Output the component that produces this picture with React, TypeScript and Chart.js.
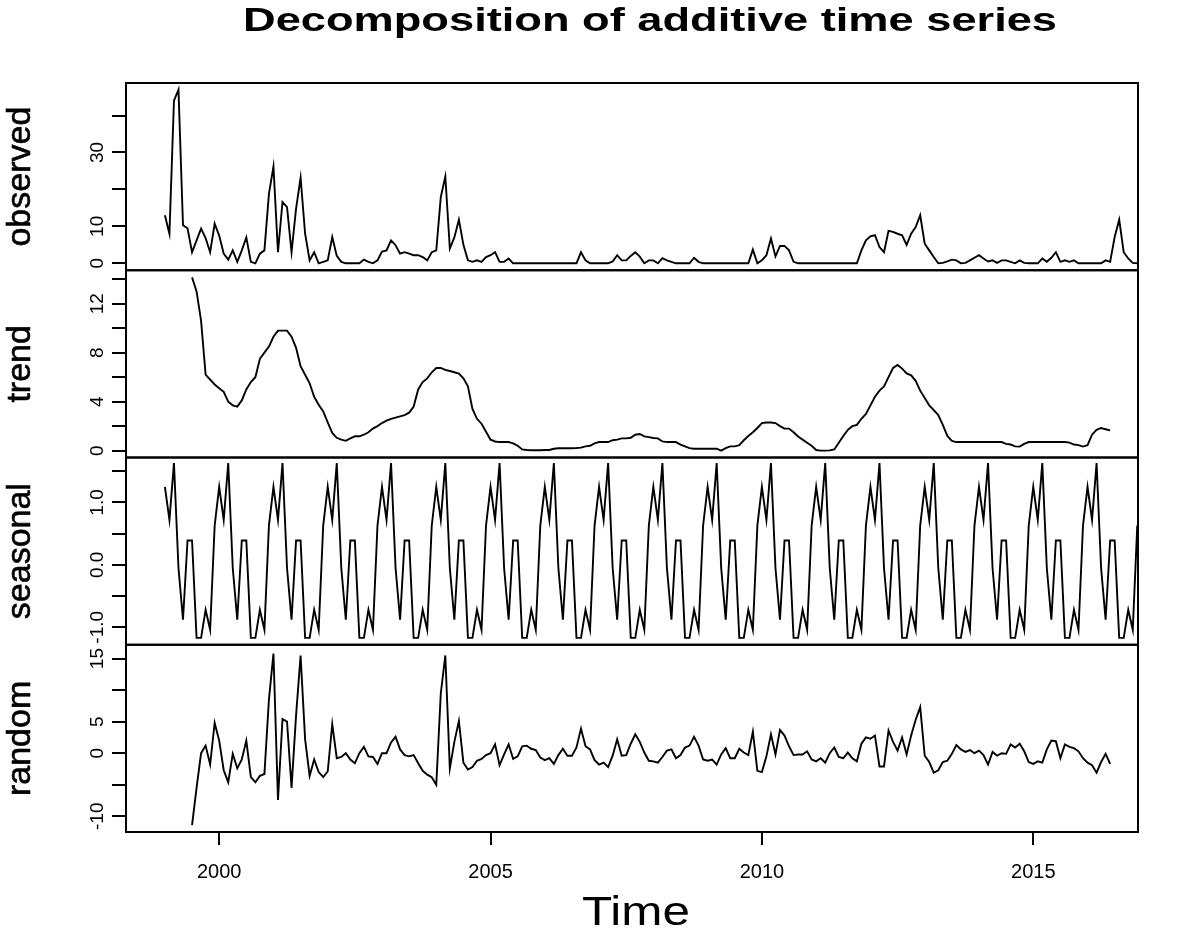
import React, { useEffect, useRef } from "react";
import { Chart, registerables } from "chart.js";

Chart.register(...registerables);

// ---- Time base: monthly series, Jan 1999 .. Dec 2016 ----
const startYear = 1999;
const monthsPerYear = 12;

// ---- observed (one row per year, Jan..Dec) ----
const observed: number[] = [
  13, 8, 44, 47, 10.3, 9.5, 3, 6.2, 9.4, 6.8, 3, 10.7, // 1999
  7.5, 2.6, 1, 3.5, 0.4, 3.5, 7.0, 0.4, 0, 2.6, 3.5, 18.8, // 2000
  26.2, 3, 16.6, 15.2, 3, 14.8, 23.2, 8, 0.8, 3, 0, 0.4, // 2001
  0.8, 7.1, 2, 0.4, 0, 0, 0, 0, 1, 0.4, 0, 0.8, // 2002
  3.2, 3.5, 6.2, 4.9, 2.6, 3, 2.6, 2.2, 2.2, 1.7, 0.8, 3, // 2003
  3.5, 17.9, 23.5, 4, 7, 11.8, 5, 0.8, 0.4, 0.8, 0.4, 1.7, // 2004
  2.2, 3, 0.4, 0.4, 1.3, 0, 0, 0, 0, 0, 0, 0, // 2005
  0, 0, 0, 0, 0, 0, 0, 0, 3, 0.8, 0, 0, // 2006
  0, 0, 0, 0.5, 2.2, 0.8, 0.8, 2, 3, 1.8, 0, 0.8, // 2007
  0.8, 0, 1.4, 0.8, 0.4, 0, 0, 0, 0, 1.5, 0.4, 0, // 2008
  0, 0, 0, 0, 0, 0, 0, 0, 0, 0, 3.7, 0, // 2009
  0.8, 2.2, 6.7, 1.9, 4.7, 4.7, 3.5, 0.4, 0, 0, 0, 0, // 2010
  0, 0, 0, 0, 0, 0, 0, 0, 0, 0, 3.5, 6.2, // 2011
  7.3, 7.6, 4.4, 3, 8.8, 8.5, 8, 7.6, 5, 8, 9.8, 13, // 2012
  5.3, 3.5, 1.7, 0, 0.1, 0.5, 1, 0.8, 0, 0.1, 0.8, 1.5, // 2013
  2.2, 1.3, 0.5, 0.8, 0.1, 0.8, 0.8, 0.4, 0, 0.8, 0.1, 0, // 2014
  0, 0, 1.3, 0.4, 1.5, 3, 0.4, 0.8, 0.4, 0.8, 0, 0, // 2015
  0, 0, 0, 0, 0.8, 0.4, 7.1, 11.8, 3, 1.3, 0.1, 0, // 2016
];

// ---- trend (centred moving average: missing first/last 6 months) ----
const trend: (number | null)[] = [
  null, null, null, null, null, null, 14.15, 13.0, 10.6, 6.2, 5.8, 5.4, // 1999
  5.1, 4.8, 4.0, 3.7, 3.6, 4.1, 5.0, 5.6, 6.0, 7.5, 8.0, 8.5, // 2000
  9.3, 9.8, 9.8, 9.8, 9.3, 8.4, 6.9, 6.2, 5.5, 4.4, 3.75, 3.2, // 2001
  2.3, 1.45, 1.05, 0.9, 0.8, 1.0, 1.17, 1.17, 1.3, 1.5, 1.8, 2.0, // 2002
  2.25, 2.45, 2.6, 2.7, 2.8, 2.9, 3.1, 3.6, 5.0, 5.6, 5.9, 6.4, // 2003
  6.75, 6.75, 6.6, 6.5, 6.4, 6.3, 5.9, 5.25, 3.4, 2.6, 2.2, 1.55, // 2004
  0.9, 0.75, 0.7, 0.7, 0.7, 0.6, 0.4, 0.1, 0.05, 0.03, 0.03, 0.03, // 2005
  0.05, 0.05, 0.15, 0.2, 0.2, 0.2, 0.2, 0.22, 0.25, 0.35, 0.4, 0.6, // 2006
  0.7, 0.7, 0.7, 0.85, 0.9, 1.0, 1.0, 1.05, 1.3, 1.36, 1.17, 1.1, // 2007
  1.03, 1.0, 0.75, 0.7, 0.7, 0.7, 0.5, 0.35, 0.2, 0.16, 0.16, 0.16, // 2008
  0.16, 0.16, 0.16, 0.0, 0.2, 0.35, 0.35, 0.45, 0.85, 1.2, 1.5, 1.85, // 2009
  2.25, 2.3, 2.3, 2.25, 2.0, 1.8, 1.8, 1.5, 1.15, 0.9, 0.65, 0.4, // 2010
  0.05, 0, 0, 0.02, 0.1, 0.65, 1.2, 1.7, 2.0, 2.1, 2.6, 3.0, // 2011
  3.7, 4.4, 4.9, 5.25, 6.0, 6.75, 7.0, 6.7, 6.3, 6.15, 5.7, 4.9, // 2012
  4.3, 3.7, 3.3, 2.9, 2.1, 1.2, 0.8, 0.7, 0.7, 0.7, 0.7, 0.7, // 2013
  0.7, 0.7, 0.7, 0.7, 0.7, 0.7, 0.55, 0.5, 0.35, 0.33, 0.55, 0.7, // 2014
  0.7, 0.7, 0.7, 0.7, 0.7, 0.7, 0.7, 0.7, 0.65, 0.5, 0.45, 0.33, // 2015
  0.45, 1.3, 1.7, 1.85, 1.75, 1.65, null, null, null, null, null, null, // 2016
];

// ---- seasonal (same yearly figure each year) ----
const seasonal: number[] = [
  1.25, 0.72, 1.63, -0.05, -0.88, 0.39, 0.39, -1.17, -1.17, -0.72, -1.04, 0.63, // 1999
  1.25, 0.72, 1.63, -0.05, -0.88, 0.39, 0.39, -1.17, -1.17, -0.72, -1.04, 0.63, // 2000
  1.25, 0.72, 1.63, -0.05, -0.88, 0.39, 0.39, -1.17, -1.17, -0.72, -1.04, 0.63, // 2001
  1.25, 0.72, 1.63, -0.05, -0.88, 0.39, 0.39, -1.17, -1.17, -0.72, -1.04, 0.63, // 2002
  1.25, 0.72, 1.63, -0.05, -0.88, 0.39, 0.39, -1.17, -1.17, -0.72, -1.04, 0.63, // 2003
  1.25, 0.72, 1.63, -0.05, -0.88, 0.39, 0.39, -1.17, -1.17, -0.72, -1.04, 0.63, // 2004
  1.25, 0.72, 1.63, -0.05, -0.88, 0.39, 0.39, -1.17, -1.17, -0.72, -1.04, 0.63, // 2005
  1.25, 0.72, 1.63, -0.05, -0.88, 0.39, 0.39, -1.17, -1.17, -0.72, -1.04, 0.63, // 2006
  1.25, 0.72, 1.63, -0.05, -0.88, 0.39, 0.39, -1.17, -1.17, -0.72, -1.04, 0.63, // 2007
  1.25, 0.72, 1.63, -0.05, -0.88, 0.39, 0.39, -1.17, -1.17, -0.72, -1.04, 0.63, // 2008
  1.25, 0.72, 1.63, -0.05, -0.88, 0.39, 0.39, -1.17, -1.17, -0.72, -1.04, 0.63, // 2009
  1.25, 0.72, 1.63, -0.05, -0.88, 0.39, 0.39, -1.17, -1.17, -0.72, -1.04, 0.63, // 2010
  1.25, 0.72, 1.63, -0.05, -0.88, 0.39, 0.39, -1.17, -1.17, -0.72, -1.04, 0.63, // 2011
  1.25, 0.72, 1.63, -0.05, -0.88, 0.39, 0.39, -1.17, -1.17, -0.72, -1.04, 0.63, // 2012
  1.25, 0.72, 1.63, -0.05, -0.88, 0.39, 0.39, -1.17, -1.17, -0.72, -1.04, 0.63, // 2013
  1.25, 0.72, 1.63, -0.05, -0.88, 0.39, 0.39, -1.17, -1.17, -0.72, -1.04, 0.63, // 2014
  1.25, 0.72, 1.63, -0.05, -0.88, 0.39, 0.39, -1.17, -1.17, -0.72, -1.04, 0.63, // 2015
  1.25, 0.72, 1.63, -0.05, -0.88, 0.39, 0.39, -1.17, -1.17, -0.72, -1.04, 0.63, // 2016
];

// ---- random (remainder) ----
const random: (number | null)[] = [
  null, null, null, null, null, null, -11.4, -5.5, 0.0, 1.2, -1.8, 4.8, // 1999
  2.0, -2.7, -4.6, -0.1, -2.4, -1.0, 2.0, -3.8, -4.6, -3.6, -3.3, 8.5, // 2000
  15.8, -7.4, 5.4, 5.0, -5.5, 6.0, 15.5, 2.2, -3.6, -1.0, -3.0, -3.8, // 2001
  -2.9, 4.6, -0.8, -0.6, 0.0, -1.0, -1.6, 0.0, 1.0, -0.5, -0.6, -1.7, // 2002
  0.0, 0.0, 1.7, 2.6, 0.6, -0.3, -0.5, -0.3, -1.6, -2.8, -3.4, -3.8, // 2003
  -5.0, 9.5, 15.5, -2.4, 1.8, 5.1, -1.5, -2.6, -2.2, -1.2, -0.9, -0.3, // 2004
  0.0, 1.4, -1.9, -0.2, 1.4, -0.9, -0.5, 1.1, 1.2, 0.7, 0.5, -0.7, // 2005
  -1.1, -0.8, -1.7, -0.3, 0.7, -0.4, -0.4, 0.9, 3.9, 1.1, 0.6, -1.1, // 2006
  -1.8, -1.5, -2.2, -0.4, 2.2, -0.4, -0.3, 1.5, 3.0, 1.8, 0.1, -1.2, // 2007
  -1.3, -1.5, -0.6, 0.4, 0.6, -0.8, -0.3, 0.9, 1.2, 2.6, 1.2, -1.0, // 2008
  -1.2, -1.0, -1.8, -0.2, 0.8, -0.8, -0.8, 0.7, 0.1, -0.3, 3.4, -2.8, // 2009
  -3.0, -0.5, 3.0, -0.2, 3.7, 2.8, 1.1, -0.3, -0.2, -0.2, 0.3, -1.0, // 2010
  -1.3, -0.8, -1.5, 0.0, 0.9, -0.6, -0.8, 0.1, -0.8, -1.3, 1.5, 2.5, // 2011
  2.3, 2.8, -2.1, -2.1, 3.6, 1.8, 0.4, 2.5, -0.2, 2.8, 5.3, 7.3, // 2012
  -0.4, -1.4, -3.1, -2.7, -1.4, -1.2, -0.1, 1.3, 0.6, 0.2, 0.5, 0.0, // 2013
  0.4, -0.3, -1.8, 0.2, -0.4, 0.0, -0.1, 1.4, 0.9, 1.5, 0.3, -1.4, // 2014
  -1.7, -1.3, -1.5, 0.6, 2.0, 1.9, -0.8, 1.4, 1.0, 0.8, 0.3, -0.8, // 2015
  -1.5, -1.9, -3.1, -1.4, -0.1, -1.7, null, null, null, null, null, null, // 2016
];

// ---- axis ticks and labels ----
const xTicks = [2000, 2005, 2010, 2015];
const panelNames = ["observed", "trend", "seasonal", "random"];
const observedTicks = [0, 10, 20, 30, 40];
const observedTickLabels = ["0", "10", "", "30", ""];
const trendTicks = [0, 2, 4, 6, 8, 10, 12, 14];
const trendTickLabels = ["0", "", "4", "", "8", "", "12", ""];
const seasonalTicks = [-1.0, -0.5, 0.0, 0.5, 1.0, 1.5];
const seasonalTickLabels = ["-1.0", "", "0.0", "", "1.0", ""];
const randomTicks = [-10, -5, 0, 5, 10, 15];
const randomTickLabels = ["-10", "", "0", "5", "", "15"];

const titleText = "Decomposition of additive time series";
const xTitleText = "Time";

const FONT = "'Liberation Sans', Arial, Helvetica, sans-serif";

type Panel = {
  id: string;
  name: string;
  data: (number | null)[];
  ticks: number[];
  labels: string[];
  min: number;
  max: number;
  weight: number;
};

const panels: Panel[] = [
  { id: "yObs", name: panelNames[0], data: observed, ticks: observedTicks, labels: observedTickLabels, min: -1.88, max: 48.8, weight: 4 },
  { id: "yTrend", name: panelNames[1], data: trend, ticks: trendTicks, labels: trendTickLabels, min: -0.56, max: 14.73, weight: 3 },
  { id: "ySeas", name: panelNames[2], data: seasonal, ticks: seasonalTicks, labels: seasonalTickLabels, min: -1.28, max: 1.72, weight: 2 },
  { id: "yRand", name: panelNames[3], data: random, ticks: randomTicks, labels: randomTickLabels, min: -12.5, max: 17.2, weight: 1 },
];

function drawRotated(ctx: CanvasRenderingContext2D, text: string, x: number, y: number, font: string, stroke = 0) {
  ctx.save();
  ctx.translate(x, y);
  ctx.rotate(-Math.PI / 2);
  ctx.font = font;
  ctx.textAlign = "center";
  ctx.textBaseline = "middle";
  ctx.fillText(text, 0, 0);
  if (stroke > 0) {
    ctx.lineWidth = stroke;
    ctx.strokeStyle = "#000";
    ctx.strokeText(text, 0, 0);
  }
  ctx.restore();
}

function drawFitted(ctx: CanvasRenderingContext2D, text: string, cx: number, cy: number, font: string, width: number) {
  ctx.save();
  ctx.font = font;
  const w = ctx.measureText(text).width;
  ctx.translate(cx, cy);
  ctx.scale(width / w, 1);
  ctx.textAlign = "center";
  ctx.textBaseline = "middle";
  ctx.fillText(text, 0, 0);
  ctx.restore();
}

const decorPlugin = {
  id: "decor",
  afterDraw(chart: any) {
    const { ctx, chartArea } = chart;
    ctx.save();
    ctx.strokeStyle = "#000";
    ctx.lineWidth = 2;
    panels.forEach((p) => {
      const s = chart.scales[p.id];
      ctx.strokeRect(chartArea.left, s.top, chartArea.right - chartArea.left, s.bottom - s.top);
    });
    ctx.fillStyle = "#000";
    panels.forEach((p) => {
      const s = chart.scales[p.id];
      p.ticks.forEach((v, k) => {
        const lab = p.labels[k];
        if (!lab) return;
        drawRotated(ctx, lab, 98, s.getPixelForValue(v), `19px ${FONT}`);
      });
      drawRotated(ctx, p.name, 21, (s.top + s.bottom) / 2, `34px ${FONT}`, 0.6);
    });
    drawFitted(ctx, titleText, 650, 22, `bold 34px ${FONT}`, 814);
    drawFitted(ctx, xTitleText, 636, 914, `40px ${FONT}`, 108);
    ctx.restore();
  },
};

export default function App() {
  const canvasRef = useRef<HTMLCanvasElement | null>(null);

  useEffect(() => {
    const canvas = canvasRef.current;
    if (!canvas) return;

    const scales: any = {
      x: {
        type: "linear",
        position: "bottom",
        min: 1998.283,
        max: 2016.93,
        afterBuildTicks: (s: any) => {
          s.ticks = xTicks.map((v) => ({ value: v }));
        },
        afterFit: (s: any) => {
          s.height = 100;
        },
        grid: { drawOnChartArea: false, drawTicks: true, tickLength: 13, color: "#000", lineWidth: 2 },
        border: { display: false },
        ticks: {
          color: "#000",
          font: { family: FONT, size: 20 },
          padding: 15,
          autoSkip: false,
          maxRotation: 0,
          minRotation: 0,
          callback: (v: any) => String(v),
        },
      },
    };
    panels.forEach((p) => {
      scales[p.id] = {
        type: "linear",
        position: "left",
        stack: "panels",
        stackWeight: 1,
        weight: p.weight,
        min: p.min,
        max: p.max,
        afterBuildTicks: (s: any) => {
          s.ticks = p.ticks.map((v) => ({ value: v }));
        },
        afterFit: (s: any) => {
          s.width = 126;
        },
        grid: { drawOnChartArea: false, drawTicks: true, tickLength: 14, color: "#000", lineWidth: 2 },
        border: { display: false },
        ticks: { display: false },
      };
    });

    const chart = new Chart(canvas, {
      type: "line",
      data: {
        datasets: panels.map((p) => ({
          label: p.name,
          data: p.data.map((v, i) => ({ x: startYear + i / monthsPerYear, y: v })),
          xAxisID: "x",
          yAxisID: p.id,
          borderColor: "#000",
          borderWidth: 1.9,
          pointRadius: 0,
          pointHoverRadius: 0,
          fill: false,
          tension: 0,
          spanGaps: false,
        })),
      },
      options: {
        responsive: false,
        animation: false,
        events: [],
        layout: { padding: { top: 83, right: 43, bottom: 0, left: 0 } },
        plugins: {
          legend: { display: false },
          title: { display: false },
          tooltip: { enabled: false },
        },
        scales,
      },
      plugins: [decorPlugin],
    } as any);

    return () => chart.destroy();
  }, []);

  return (
    <div style={{ position: "fixed", left: 0, top: 0, width: 1181, height: 932, background: "#fff" }}>
      <canvas ref={canvasRef} width={1181} height={932} style={{ display: "block" }} />
    </div>
  );
}
